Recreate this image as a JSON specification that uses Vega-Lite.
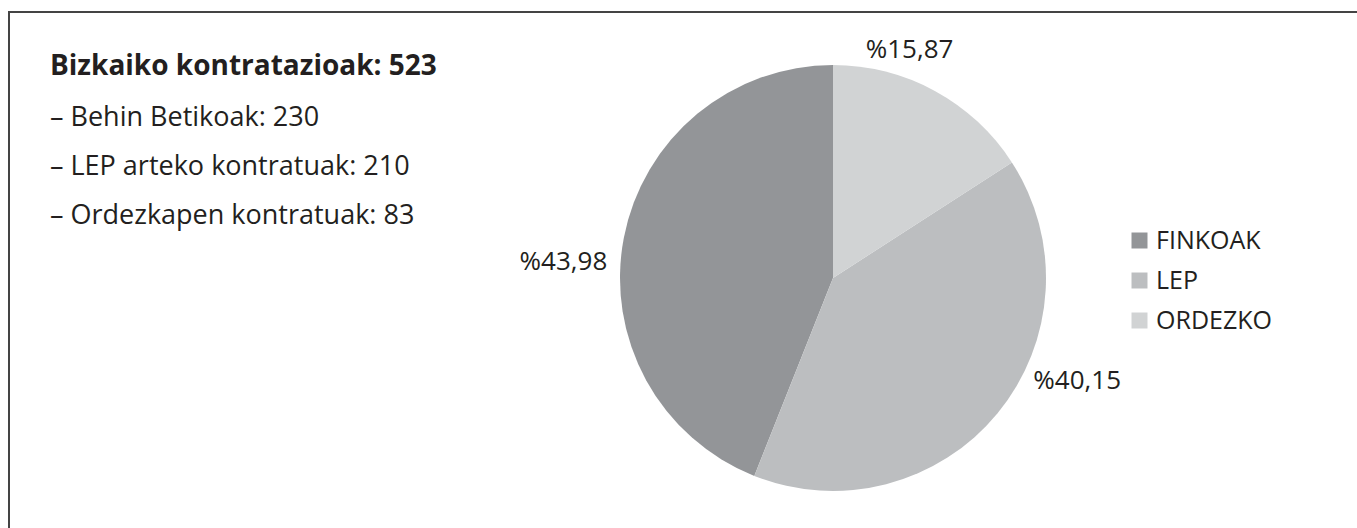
{
  "$schema": "https://vega.github.io/schema/vega-lite/v6.json",
  "autosize": "none",
  "width": 1348,
  "height": 516,
  "padding": {"left": 9, "top": 12, "right": 0, "bottom": 0},
  "background": "white",
  "view": {"stroke": "#444444", "strokeWidth": 2, "fill": "white", "strokeDash": [1348, 1864, 516]},
  "config": {
    "font": "Open Sans"
  },
  "title": {
    "text": "Bizkaiko kontratazioak: 523",
    "subtitle": ["– Behin Betikoak: 230", "– LEP arteko kontratuak: 210", "– Ordezkapen kontratuak: 83"],
    "anchor": "start",
    "frame": "group",
    "orient": "top",
    "offset": -240,
    "dx": 41,
    "font": "Open Sans",
    "fontSize": 28,
    "fontWeight": "bold",
    "color": "#231f20",
    "subtitleFont": "Open Sans",
    "subtitleFontSize": 27,
    "subtitleColor": "#231f20",
    "subtitleLineHeight": 49,
    "subtitlePadding": 24
  },
  "data": {
    "values": [
      {"cat": "FINKOAK", "count": 230, "label": "%43,98"},
      {"cat": "LEP", "count": 210, "label": "%40,15"},
      {"cat": "ORDEZKO", "count": 83, "label": "%15,87"}
    ]
  },
  "encoding": {
    "theta": {"field": "count", "type": "quantitative", "stack": true},
    "order": {"field": "cat", "sort": "descending"}
  },
  "layer": [
    {
      "mark": {"type": "arc", "outerRadius": 213, "xOffset": 150, "yOffset": 8},
      "encoding": {
        "color": {
          "field": "cat",
          "type": "nominal",
          "scale": {"domain": ["FINKOAK", "LEP", "ORDEZKO"], "range": ["#939598", "#bcbec0", "#d1d3d4"]},
          "legend": {
            "title": null,
            "orient": "none",
            "legendX": 1118,
            "legendY": 216,
            "symbolType": "square",
            "symbolSize": 256,
            "symbolStrokeWidth": 0,
            "labelFont": "Open Sans",
            "labelFontSize": 25,
            "labelColor": "#231f20",
            "labelOffset": 4,
            "rowPadding": 14,
            "padding": 0
          }
        }
      }
    },
    {
      "mark": {"type": "text", "radius": 250, "align": "center", "baseline": "middle", "fontSize": 26, "color": "#231f20", "xOffset": 150, "yOffset": 8, "dx": -43, "dy": -8},
      "encoding": {
        "text": {"condition": {"test": "datum.cat === 'ORDEZKO'", "field": "label"}, "value": ""}
      }
    },
    {
      "mark": {"type": "text", "radius": 250, "align": "center", "baseline": "middle", "fontSize": 26, "color": "#231f20", "xOffset": 150, "yOffset": 8, "dx": 51, "dy": -56},
      "encoding": {
        "text": {"condition": {"test": "datum.cat === 'LEP'", "field": "label"}, "value": ""}
      }
    },
    {
      "mark": {"type": "text", "radius": 250, "align": "center", "baseline": "middle", "fontSize": 26, "color": "#231f20", "xOffset": 150, "yOffset": 8, "dx": -24, "dy": 31},
      "encoding": {
        "text": {"condition": {"test": "datum.cat === 'FINKOAK'", "field": "label"}, "value": ""}
      }
    }
  ]
}
